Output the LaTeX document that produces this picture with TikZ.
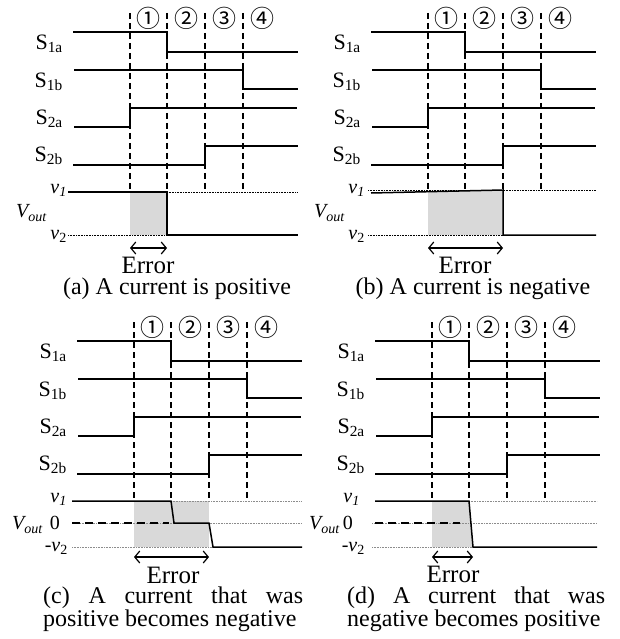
\documentclass[tikz,border=0pt]{standalone}
\usepackage{fontspec}
\setmainfont{Liberation Serif}
\newfontfamily\circfont{Noto Sans CJK SC}
\usetikzlibrary{arrows.meta}

\begin{document}
\begin{tikzpicture}[x=1pt,y=-1pt,
    sig/.style={line width=1.5pt},
    guide/.style={line width=1.2pt,dash pattern=on 6pt off 4pt},
    zeroline/.style={line width=1.5pt,dash pattern=on 8pt off 5pt},
    lvl/.style={line width=0.7pt,dash pattern=on 0.8pt off 0.8pt},
    lvlgray/.style={lvl,draw=black!45},
    errfill/.style={fill=black!15,draw=none},
    errarrow/.style={line width=1.2pt,
      {Straight Barb[length=5pt,width=12pt]}-{Straight Barb[length=5pt,width=12pt]}},
    sname/.style={anchor=east,inner sep=0pt,font=\fontsize{22}{24}\selectfont},
    vname/.style={anchor=east,inner sep=0pt,font=\fontsize{20}{22}\selectfont\itshape},
    phase/.style={inner sep=0pt,font=\circfont\fontsize{24}{26}\selectfont},
    errtext/.style={inner sep=0pt,font=\fontsize{25}{27}\selectfont},
    capt/.style={inner sep=0pt,font=\fontsize{24}{21}\selectfont}
  ]
  \useasboundingbox (0,0) rectangle (619,639);

  % switch signals, common to the four panels
  \foreach \px/\py/\p in {73/0/a,371/0/b,77/309/c,375/309/d}{
    \begin{scope}[shift={(\px,\py)}]
      \foreach \dx in {57,94,132,170}
        \draw[guide] (\dx,13) -- (\dx,192);
      \foreach \cx/\n [count=\i] in {75.5/①,113/②,151/③,189/④}
        \node[phase] (ph\i-\p) at (\cx,18) {\n};
      \node[sname] (s1a-\p) at (-10,44) {S\textsubscript{1a}};
      \node[sname] (s1b-\p) at (-10,82) {S\textsubscript{1b}};
      \node[sname] (s2a-\p) at (-10,119) {S\textsubscript{2a}};
      \node[sname] (s2b-\p) at (-10,156) {S\textsubscript{2b}};
      \draw[sig] (0,32) -- (94,32) -- (94,52) -- (225,52);
      \draw[sig] (1,70) -- (170,70) -- (170,89) -- (225,89);
      \draw[sig] (1,127) -- (57,127) -- (57,108) -- (224,108);
      \draw[sig] (0,165) -- (132,165) -- (132,146) -- (225,146);
    \end{scope}
  }

  % (a) positive current
  \begin{scope}[shift={(73,0)}]
    \fill[errfill] (57,192) rectangle (94,235);
    \draw[lvl] (94,192) -- (225,192);
    \draw[lvl] (-5,235) -- (94,235);
    \draw[sig] (-5,192) -- (94,192) -- (94,235) -- (225,235);
    \node[vname] (v1-a) at (-6,190) {v\textsubscript{1}};
    \node[vname] (v2-a) at (-6,236) {v\textsubscript{\upshape 2}};
    \node[vname] (vo-a) at (-26,213) {V\textsubscript{out}};
    \coordinate (el-a) at (57,248);
    \coordinate (er-a) at (94,248);
    \draw[errarrow] (el-a) -- (er-a);
    \node[errtext] (err-a) at (75,265) {Error};
    \node[capt] (cap-a) at (104,289) {(a) A current is positive};
  \end{scope}

  % (b) negative current
  \begin{scope}[shift={(371,0)}]
    \fill[errfill] (57,191) rectangle (132,235);
    \draw[lvl] (-3,190) -- (225,190);
    \draw[lvl] (-3,235) -- (132,235);
    \draw[sig] (0,193) -- (132,190) -- (132,235) -- (225,235);
    \node[vname] (v1-b) at (-6,190) {v\textsubscript{1}};
    \node[vname] (v2-b) at (-6,236) {v\textsubscript{\upshape 2}};
    \node[vname] (vo-b) at (-26,213) {V\textsubscript{out}};
    \coordinate (el-b) at (57,248);
    \coordinate (er-b) at (132,248);
    \draw[errarrow] (el-b) -- (er-b);
    \node[errtext] (err-b) at (94,265) {Error};
    \node[capt] (cap-b) at (102,289) {(b) A current is negative};
  \end{scope}

  % (c) positive -> negative
  \begin{scope}[shift={(77,309)}]
    \fill[errfill] (57,192) rectangle (132,238);
    \draw[lvlgray] (94,192) -- (225,192);
    \draw[lvlgray] (-5,214) -- (225,214);
    \draw[lvlgray] (-5,238) -- (136,238);
    \draw[zeroline] (-5,214) -- (92,214);
    \draw[sig] (-5,192) -- (94,192) -- (97,214) -- (132,214) -- (136,238) -- (225,238);
    \node[vname] (v1-c) at (-10,190) {v\textsubscript{1}};
    \node[vname] (z-c) at (-17,214) {\upshape 0};
    \node[vname] (v2-c) at (-9,239) {{\upshape -}v\textsubscript{\upshape 2}};
    \node[vname] (vo-c) at (-34,216) {V\textsubscript{out}};
    \coordinate (el-c) at (57,248);
    \coordinate (er-c) at (132,248);
    \draw[errarrow] (el-c) -- (er-c);
    \node[errtext] (err-c) at (96,266) {Error};
    \node[capt,text width=260pt,align=justify,anchor=north west] (cap-c) at (-34,278)
      {(c) A current that was\linebreak positive becomes negative};
  \end{scope}

  % (d) negative -> positive
  \begin{scope}[shift={(375,309)}]
    \fill[errfill] (57,192) -- (94,192) -- (98,238) -- (57,238) -- cycle;
    \draw[lvlgray] (94,192) -- (222,192);
    \draw[lvlgray] (-3,214) -- (222,214);
    \draw[lvlgray] (-3,238) -- (98,238);
    \draw[zeroline] (0,214) -- (85,214);
    \draw[sig] (0,192) -- (94,192) -- (98,238) -- (222,238);
    \node[vname] (v1-d) at (-15,190) {v\textsubscript{1}};
    \node[vname] (z-d) at (-22,214) {\upshape 0};
    \node[vname] (v2-d) at (-10,239) {{\upshape -}v\textsubscript{\upshape 2}};
    \node[vname] (vo-d) at (-35,216) {V\textsubscript{out}};
    \coordinate (el-d) at (57,248);
    \coordinate (er-d) at (98,248);
    \draw[errarrow] (el-d) -- (er-d);
    \node[errtext] (err-d) at (78,265) {Error};
    \node[capt,text width=258pt,align=justify,anchor=north west] (cap-d) at (-28,278)
      {(d) A current that was\linebreak negative becomes positive};
  \end{scope}
\end{tikzpicture}
\end{document}
